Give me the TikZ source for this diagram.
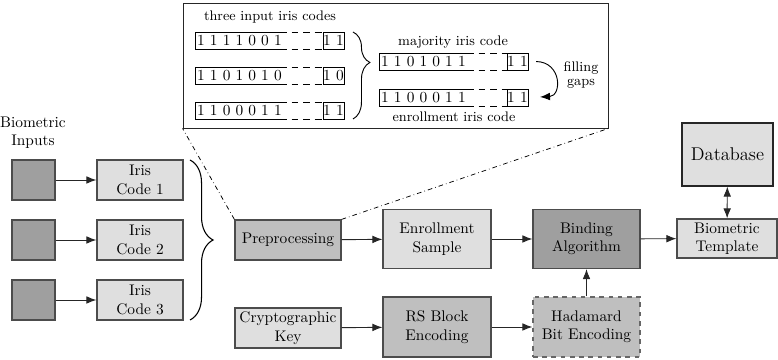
\documentclass[tikz,border=0pt]{standalone}
\usetikzlibrary{arrows.meta,decorations.pathreplacing,calc}
\newcommand\codeRow[8]{%
  \draw[codeline] (#2,{#5-8.5}) -- (#1,{#5-8.5}) -- (#1,{#5+8.5}) -- (#2,{#5+8.5});
  \draw[codeline,cd] (#2,{#5-8.5}) -- (#3,{#5-8.5}) (#2,{#5+8.5}) -- (#3,{#5+8.5});
  \draw[codeline] (#3,{#5-8.5}) rectangle (#4,{#5+8.5});
  \node[anchor=west,inner sep=1.2pt] (#8a) at (#1,#5) {#6};
  \node[inner sep=0pt] (#8b) at ({(#3+#4)/2},#5) {#7};
}
\begin{document}
\begin{tikzpicture}[x=0.65pt,y=-0.65pt,
  box/.style={draw=black!70, line width=0.8pt, align=center, inner sep=1pt},
  light/.style={box, fill=gray!25},
  mid/.style={box, fill=gray!50},
  dark/.style={box, fill=gray!75},
  tip/.style={Latex[length=6.5pt,width=5pt]},
  arr/.style={-{Latex[length=6.5pt,width=5pt]}, line width=0.6pt, black!85},
  cd/.style={dash pattern=on 4.5pt off 3pt},
  codeline/.style={line width=0.55pt, black},
  lbl/.style={font=\small, inner sep=1pt},
]
\useasboundingbox (0,0) rectangle (778,360);

% main blocks
\node[align=center, inner sep=0pt] (bio) at (33,133) {Biometric\\Inputs};
\foreach \i/\y in {1/180,2/240,3/300}{
  \node[dark, minimum width=43*0.65pt, minimum height=40*0.65pt] (sq\i) at (33.5,\y) {};
  \node[light, minimum width=86*0.65pt, minimum height=40*0.65pt] (ic\i) at (140,\y) {Iris\\Code \i};
  \draw[arr] (sq\i) -- (ic\i);
}
\draw[decorate, decoration={brace, amplitude=15pt}, line width=0.7pt] (190,160) -- (190,320);

\node[mid, minimum width=106*0.65pt, minimum height=40*0.65pt] (pre) at (288,240) {Preprocessing};
\node[light, minimum width=106*0.65pt, minimum height=40*0.65pt] (key) at (288,328) {Cryptographic\\Key};
\node[light, minimum width=108*0.65pt, minimum height=59*0.65pt] (enr) at (437,239) {Enrollment\\Sample};
\node[dark, minimum width=107*0.65pt, minimum height=59*0.65pt] (bind) at (586.5,239) {Binding\\Algorithm};
\node[light, minimum width=100*0.65pt, minimum height=39*0.65pt] (tmpl) at (727,238.5) {Biometric\\Template};
\node[light, draw=black!85, minimum width=91*0.65pt, minimum height=63*0.65pt, font=\large] (db) at (727.5,154.5) {Database};
\node[mid, minimum width=108*0.65pt, minimum height=60*0.65pt] (rs) at (437,327) {RS Block\\Encoding};
\node[mid, draw=black!60, dashed, minimum width=107*0.65pt, minimum height=60*0.65pt] (had) at (586.5,327) {Hadamard\\Bit Encoding};

\draw[arr] (pre) -- (enr);
\draw[arr] (enr) -- (bind);
\draw[arr] (bind) -- (tmpl);
\draw[arr] (key) -- (rs);
\draw[arr] (rs) -- (had);
\draw[arr] (had) -- (bind);
\draw[{Latex[length=6.5pt,width=5pt]}-{Latex[length=6.5pt,width=5pt]}, line width=0.6pt, black!85] (db) -- (tmpl);

% magnifier
\node[draw=black!85, line width=0.55pt, fill=white, minimum width=425*0.65pt, minimum height=125*0.65pt, inner sep=0pt] (mag) at (395.5,65.5) {};
\draw[dash dot, line width=0.5pt] (pre.north west) -- (mag.south west);
\draw[dash dot, line width=0.5pt] (pre.north east) -- (mag.south east);

\node[lbl] (l1) at (270,17) {three input iris codes};
\codeRow{195}{280}{323}{344}{40.5}{1 1 1 1 0 0 1}{1 1}{r1}
\codeRow{195}{280}{323}{344}{75.5}{1 1 0 1 0 1 0}{1 0}{r2}
\codeRow{195}{280}{323}{344}{110.5}{1 1 0 0 0 1 1}{1 1}{r3}
\draw[decorate, decoration={brace, amplitude=11pt, aspect=0.35}, line width=0.6pt] (353,32) -- (353,119);

\node[lbl] (l2) at (453,42) {majority iris code};
\codeRow{379}{467}{507}{528}{61.5}{1 1 0 1 0 1 1}{1 1}{mj}
\codeRow{379}{467}{507}{528}{97.5}{1 1 0 0 0 1 1}{1 1}{en}
\node[lbl] (l3) at (454,117) {enrollment iris code};

\draw[-{Latex[length=6.5pt,width=5pt]}, line width=0.6pt] (mjb.east) ++(8,0) coordinate (fa) .. controls (562,62) and (562,96) .. (540,97) coordinate (fb);
\node[align=center, font=\fontsize{9}{9.5}\selectfont, inner sep=0pt] (fg) at (581,75) {filling\\gaps};
\end{tikzpicture}
\end{document}
